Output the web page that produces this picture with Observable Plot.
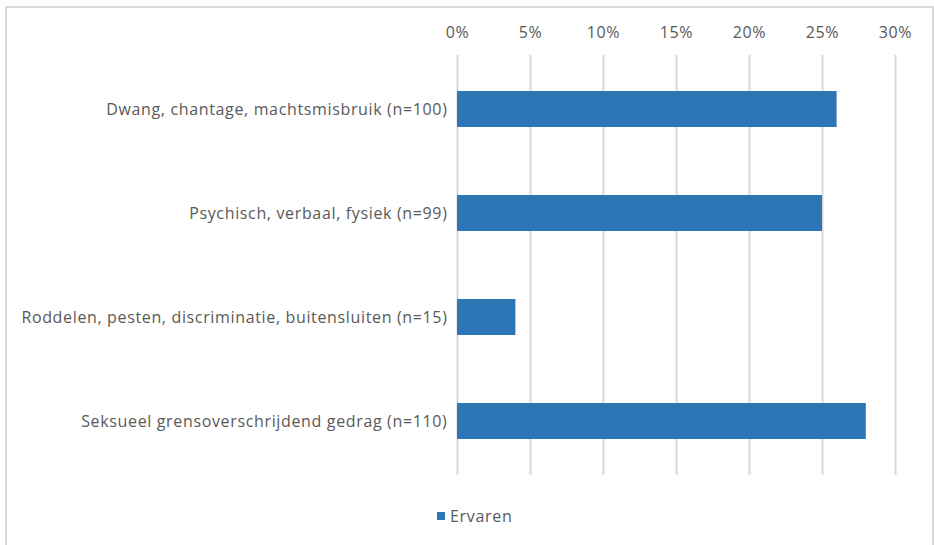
<!DOCTYPE html>
<html>
<head>
<meta charset="utf-8">
<script src="https://cdn.jsdelivr.net/npm/d3@7"></script>
<script src="https://cdn.jsdelivr.net/npm/@observablehq/plot@0.6"></script>
<style>
  html, body { margin: 0; padding: 0; background: #fff; }
  #frame { position: absolute; left: 5px; top: 6px; width: 929px; height: 560px; box-sizing: border-box;
           border: 2px solid #d9d9d9; pointer-events: none; }
  #chart { position: absolute; left: 0; top: 0; }
  #chart svg text { letter-spacing: 0.65px; }
  #legend { position: absolute; left: 437px; top: 505px; font-family: "Open Sans", sans-serif; font-size: 16px; letter-spacing: 0.7px; color: #595959;
            display: flex; align-items: center; }
  #legend .sw { width: 8px; height: 8px; background: #2e75b6; margin-right: 5px; }
</style>
</head>
<body>
<div id="chart"></div>
<div id="legend"><span class="sw"></span><span>Ervaren</span></div>
<div id="frame"></div>
<script>
const categories = [
  "Dwang, chantage, machtsmisbruik (n=100)",
  "Psychisch, verbaal, fysiek (n=99)",
  "Roddelen, pesten, discriminatie, buitensluiten (n=15)",
  "Seksueel grensoverschrijdend gedrag (n=110)"
];
const values = [0.26, 0.25, 0.04, 0.28];
const ticks = [0, 0.05, 0.10, 0.15, 0.20, 0.25, 0.30];
const seriesName = "Ervaren";

const data = categories.map((c, i) => ({category: c, value: values[i]}));

const chart = Plot.plot({
  width: 934,
  height: 500,
  marginLeft: 457,
  marginRight: 39,
  marginTop: 55,
  marginBottom: 25,
  style: {fontFamily: "'Open Sans', sans-serif", fontSize: "16px", color: "#595959", background: "transparent"},
  x: {domain: [0, 0.30], ticks: ticks, tickFormat: d => Math.round(d * 100) + "%", axis: "top", tickSize: 0, tickPadding: 18, label: null},
  y: {domain: categories, paddingInner: 0.657, paddingOuter: 0.3286, tickSize: 0, tickPadding: 10, label: null},
  marks: [
    Plot.ruleX(ticks, {stroke: "#d9d9d9", strokeWidth: 2}),
    Plot.barX(data, {x: "value", y: "category", fill: "#2e75b6"})
  ]
});
document.getElementById("chart").appendChild(chart);
</script>
</body>
</html>
